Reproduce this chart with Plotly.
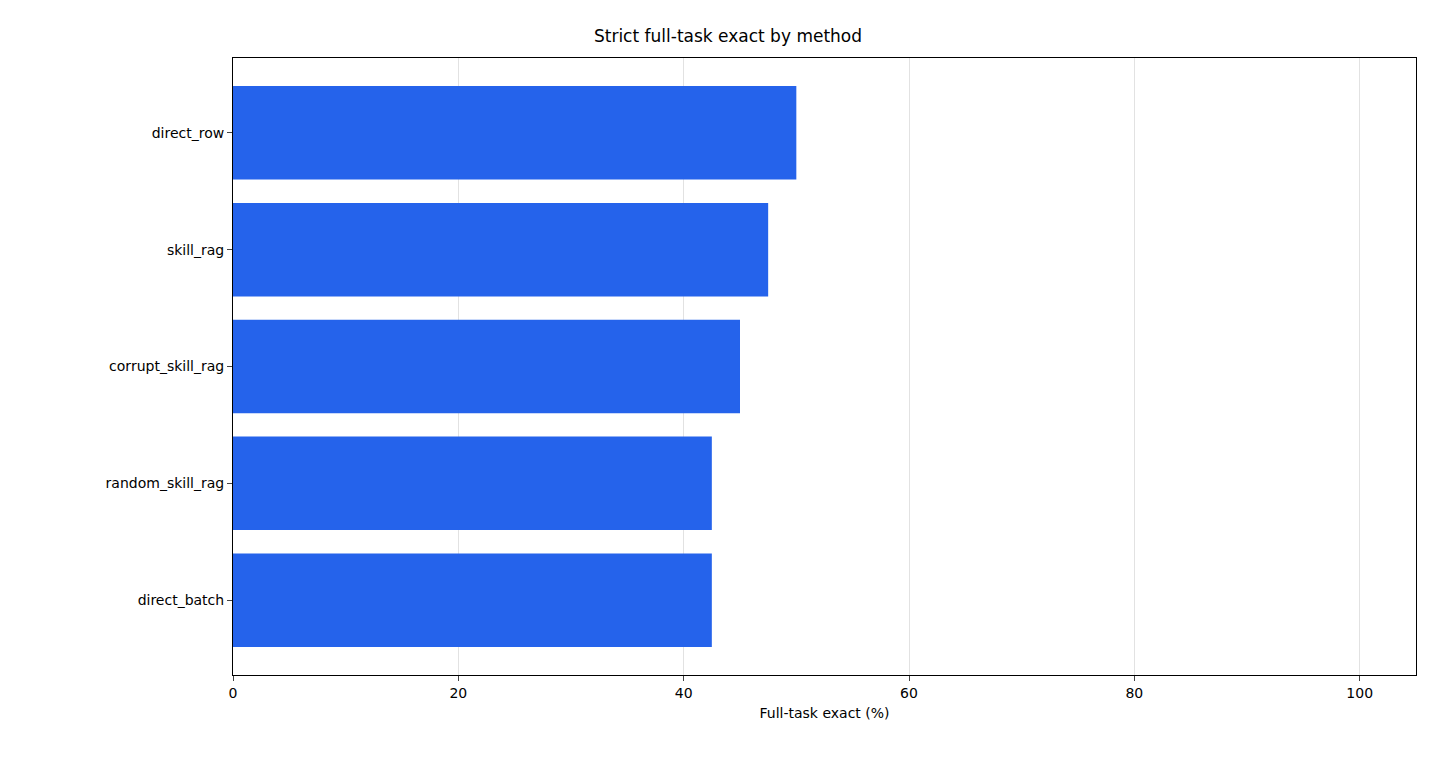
import plotly.graph_objects as go

methods = ["direct_batch", "random_skill_rag", "corrupt_skill_rag", "skill_rag", "direct_row"]
values = [42.5, 42.5, 45.0, 47.5, 50.0]

fig = go.Figure(go.Bar(x=values, y=methods, orientation="h", width=0.8,
                       marker=dict(color="#2563eb", line=dict(width=0))))
fig.update_layout(
    width=1440, height=768, plot_bgcolor="white", paper_bgcolor="white",
    margin=dict(l=225, r=32, t=50, b=101),
    font=dict(family="DejaVu Sans", size=14, color="black"),
    title=dict(text="Strict full-task exact by method", x=0.5, xanchor="center", y=0.963, yanchor="middle",
               font=dict(size=17)),
    showlegend=False,
)
fig.update_xaxes(range=[0, 105], tickvals=[0, 20, 40, 60, 80, 100], showgrid=True,
                 gridcolor="rgba(190,190,190,0.45)", gridwidth=1, layer="above traces",
                 showline=True, linecolor="black", mirror=True, ticks="outside", ticklen=5,
                 tickfont=dict(size=14), zeroline=False,
                 title=dict(text="Full-task exact (%)", standoff=8, font=dict(size=14)))
fig.update_yaxes(range=[-0.64, 4.64], showgrid=False, showline=True, linecolor="black", mirror=True,
                 ticks="outside", ticklen=5, tickfont=dict(size=14),
                 categoryorder="array", categoryarray=methods)
fig.write_html("out.html")
